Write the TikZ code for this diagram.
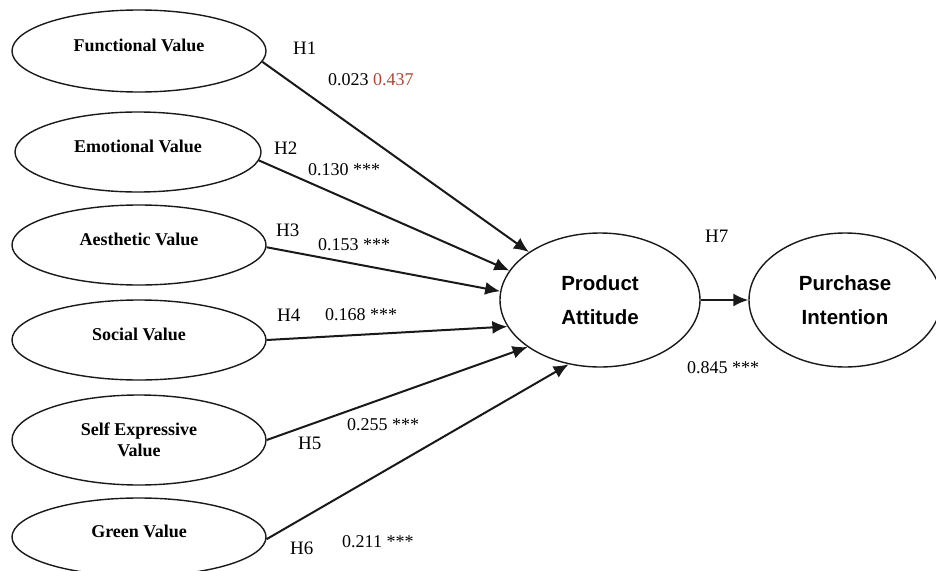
\documentclass[tikz,border=0pt]{standalone}
\usepackage{fontspec}
\setmainfont{Liberation Serif}
\newfontfamily\sansbold{Liberation Sans}[BoldFont={Liberation Sans Bold}]
\usetikzlibrary{arrows.meta,shapes.geometric}
\definecolor{redval}{RGB}{175,70,55}
\definecolor{ink}{RGB}{25,25,25}
\begin{document}
\begin{tikzpicture}[x=1pt,y=-1pt,
  construct/.style={draw=ink,ellipse,line width=1.4pt,inner sep=0pt,
    font=\fontsize{18}{21}\selectfont\bfseries,align=center},
  raised/.style={text height=13pt,text depth=13pt},
  outcome/.style={draw=ink,ellipse,line width=1.4pt,inner sep=0pt,
    minimum width=200pt,minimum height=134pt,
    font=\fontsize{20.5}{34}\selectfont\sansbold\bfseries,align=center},
  path/.style={draw=ink,line width=2pt,-{Latex[length=15pt,width=13pt]}},
  hlab/.style={anchor=west,inner sep=0pt,font=\fontsize{19}{22}\selectfont},
  coef/.style={anchor=west,inner sep=0pt,font=\fontsize{18}{21}\selectfont}]
\useasboundingbox (0,0) rectangle (936,570);
\clip (0,0) rectangle (936,570);
\fill[white] (0,0) rectangle (936,570);

\node[construct,raised,minimum width=254pt,minimum height=82pt] (fv) at (139,51) {Functional Value};
\node[construct,raised,minimum width=246pt,minimum height=80pt] (ev) at (138,152) {Emotional Value};
\node[construct,raised,minimum width=254pt,minimum height=80pt] (av) at (139,245) {Aesthetic Value};
\node[construct,raised,minimum width=254pt,minimum height=80pt] (sv) at (139,340) {Social Value};
\node[construct,minimum width=254pt,minimum height=90pt] (sev) at (139,440) {Self Expressive\\Value};
\node[construct,raised,minimum width=254pt,minimum height=78pt] (gv) at (139,537) {Green Value};

\node[outcome] (pa) at (600,300) {Product\\Attitude};
\node[outcome,minimum width=192pt] (pi) at (845,300) {Purchase\\Intention};

\draw[path] (fv.-5) -- (pa.146);
\draw[path] (ev.-4) -- (pa.162);
\draw[path] (av.-1) -- (pa.175);
\draw[path] (sv.0) -- (pa.-164);
\draw[path] (sev.0) -- (pa.-147);
\draw[path] (gv.-1) -- (pa.-116);
\draw[path] (pa.east) -- (pi.west);

\node[hlab] (h1) at (293,48) {H1};
\node[coef] (c1) at (328,80) {0.023 \textcolor{redval}{0.437}};
\node[hlab] (h2) at (274,148) {H2};
\node[coef] (c2) at (308,170) {0.130 ***};
\node[hlab] (h3) at (276,230) {H3};
\node[coef] (c3) at (318,245) {0.153 ***};
\node[hlab] (h4) at (277,315) {H4};
\node[coef] (c4) at (325,315) {0.168 ***};
\node[hlab] (h5) at (298,443) {H5};
\node[coef] (c5) at (347,425) {0.255 ***};
\node[hlab] (h6) at (290,548) {H6};
\node[coef] (c6) at (342,542) {0.211 ***};
\node[hlab] (h7) at (705,236) {H7};
\node[coef] (c7) at (687,368) {0.845 ***};
\end{tikzpicture}
\end{document}
